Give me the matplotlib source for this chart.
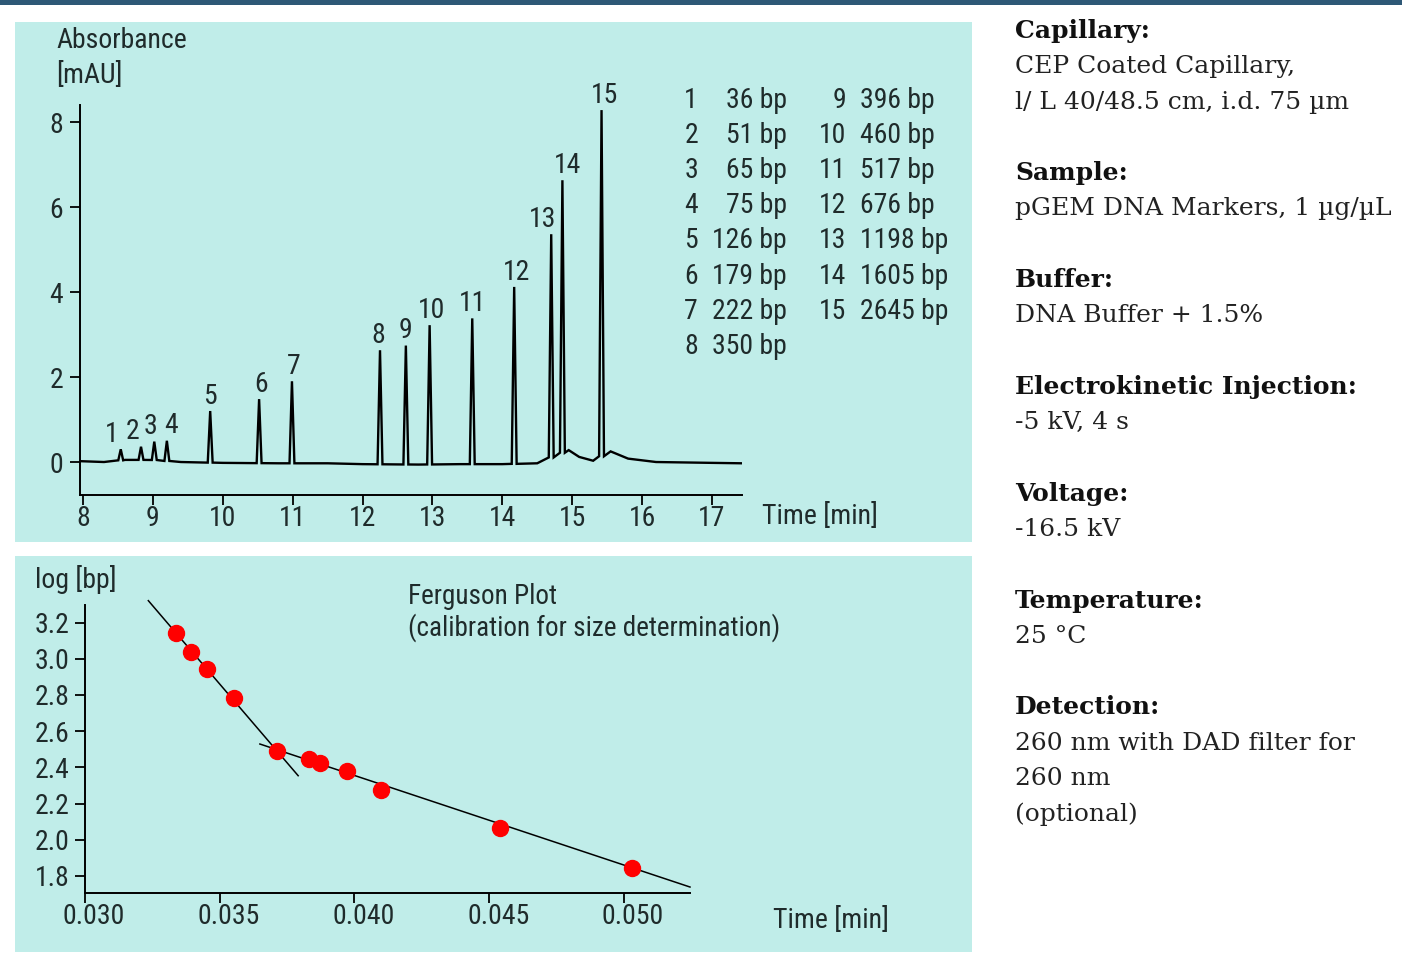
import numpy as np
import matplotlib
matplotlib.use("Agg")
import matplotlib.pyplot as plt
from matplotlib.patches import Rectangle
from matplotlib.transforms import ScaledTranslation

# electropherogram peaks (time in min, absorbance in mAU)
peak_num = [str(i) for i in range(1, 16)]
peak_time = [8.54, 8.83, 9.02, 9.20, 9.82, 10.52, 10.99, 12.25, 12.62, 12.96,
             13.57, 14.17, 14.70, 14.86, 15.42]
peak_height = [0.30, 0.36, 0.48, 0.50, 1.20, 1.48, 1.90, 2.63, 2.74, 3.22,
               3.38, 4.12, 5.36, 6.63, 8.28]
peak_bp = ["36 bp", "51 bp", "65 bp", "75 bp", "126 bp", "179 bp", "222 bp", "350 bp",
           "396 bp", "460 bp", "517 bp", "676 bp", "1198 bp", "1605 bp", "2645 bp"]

# baseline between peaks
base_time = [7.96, 8.3, 8.6, 9.0, 9.4, 10.0, 10.8, 11.5, 12.0, 12.8, 13.4, 14.0,
             14.5, 14.95, 15.1, 15.3, 15.55, 15.8, 16.2, 17.0, 17.43]
base_val = [0.02, 0.0, 0.05, 0.05, 0.0, -0.02, -0.03, -0.03, -0.05, -0.06, -0.05,
            -0.05, -0.03, 0.28, 0.12, 0.03, 0.25, 0.08, 0.0, -0.02, -0.03]

# Ferguson plot
ferg_x = [0.03338, 0.03393, 0.03452, 0.03554, 0.03714, 0.03831, 0.03872,
          0.03973, 0.04098, 0.04540, 0.05030]
ferg_logbp = [3.143, 3.038, 2.944, 2.784, 2.491, 2.446, 2.424, 2.380, 2.275,
              2.065, 1.844]
steep_x = [0.03235, 0.03791]
steep_y = [3.321, 2.354]
shallow_x = [0.03649, 0.05245]
shallow_y = [2.529, 1.739]

top_xticks = [8, 9, 10, 11, 12, 13, 14, 15, 16, 17]
top_yticks = [0, 2, 4, 6, 8]
bot_xticks = [0.030, 0.035, 0.040, 0.045, 0.050]
bot_yticks = [1.8, 2.0, 2.2, 2.4, 2.6, 2.8, 3.0, 3.2]

info = [
    ("Capillary:", ["CEP Coated Capillary,", "l/ L 40/48.5 cm, i.d. 75 µm"]),
    ("Sample:", ["pGEM DNA Markers, 1 µg/µL"]),
    ("Buffer:", ["DNA Buffer + 1.5%"]),
    ("Electrokinetic Injection:", ["-5 kV, 4 s"]),
    ("Voltage:", ["-16.5 kV"]),
    ("Temperature:", ["25 °C"]),
    ("Detection:", ["260 nm with DAD filter for", "260 nm", "(optional)"]),
]

W, H = 1402, 973
PANEL = "#c0ede9"
INK = "#1f2b2b"
FS = 20
COND = ["Liberation Sans Narrow", "Roboto Condensed", "DejaVu Sans"]
SERIF = ["DejaVu Serif", "Liberation Serif"]
plt.rcParams["font.family"] = COND


def fx(x):
    return x / W


def fy(y):
    return 1 - y / H


def main():
    fig = plt.figure(figsize=(W / 100, H / 100), dpi=100)
    fig.patch.set_facecolor("white")

    fig.add_artist(Rectangle((0, fy(5)), 1, 5 / H, transform=fig.transFigure,
                             facecolor="#2e5876", edgecolor="none", zorder=-1))
    fig.add_artist(Rectangle((fx(15), fy(542)), 957 / W, 520 / H, transform=fig.transFigure,
                             facecolor=PANEL, edgecolor="none", zorder=-1))
    fig.add_artist(Rectangle((fx(15), fy(952)), 957 / W, 396 / H, transform=fig.transFigure,
                             facecolor=PANEL, edgecolor="none", zorder=-1))

    # ---- electropherogram
    ax1 = fig.add_axes([fx(80), fy(495), 662 / W, 390 / H])
    ax1.set_facecolor("none")
    w = 0.035
    pts = [(t, v) for t, v in zip(base_time, base_val)
           if not any(abs(t - p) <= w for p in peak_time)]
    for t, h in zip(peak_time, peak_height):
        b = np.interp(t, base_time, base_val)
        pts += [(t - w, b), (t, h), (t + w, b)]
    pts.sort()
    tx, ty = zip(*pts)
    ax1.plot(tx, ty, color="black", lw=1.7, solid_joinstyle="miter")

    nudge = [-9, -8, -4, 4, 0, 2, 2, -2, 0, 2, 0, 2, -9, 5, 3]
    for lab, t, h, dx in zip(peak_num, peak_time, peak_height, nudge):
        ax1.annotate(lab, (t, h), xytext=(dx * 0.72, 1), textcoords="offset points",
                     ha="center", va="bottom", fontsize=FS, color=INK)

    ax1.set_xlim(7.957, 17.43)
    ax1.set_ylim(-0.776, 8.4)
    ax1.set_xticks(top_xticks)
    ax1.set_yticks(top_yticks)
    for s in ["top", "right"]:
        ax1.spines[s].set_visible(False)
    for s in ["left", "bottom"]:
        ax1.spines[s].set_linewidth(1.4)
    ax1.tick_params(axis="both", direction="out", length=7, width=1.3,
                    labelsize=FS, labelcolor=INK)
    ax1.tick_params(axis="x", pad=0)
    ax1.tick_params(axis="y", pad=5)

    fig.text(fx(56), fy(40), "Absorbance", fontsize=FS, color=INK, va="center")
    fig.text(fx(56), fy(75), "[mAU]", fontsize=FS, color=INK, va="center")
    fig.text(fx(762), fy(517), "Time [min]", fontsize=FS, color=INK, va="center")

    # size table
    for i, (n, bp) in enumerate(zip(peak_num, peak_bp)):
        if i < 8:
            y = 100 + i * 35.2
            fig.text(fx(698), fy(y), n, ha="right", va="center", fontsize=FS, color=INK)
            fig.text(fx(787), fy(y), bp, ha="right", va="center", fontsize=FS, color=INK)
        else:
            y = 100 + (i - 8) * 35.2
            fig.text(fx(846), fy(y), n, ha="right", va="center", fontsize=FS, color=INK)
            fig.text(fx(860), fy(y), bp, ha="left", va="center", fontsize=FS, color=INK)

    # ---- Ferguson plot
    ax2 = fig.add_axes([fx(85), fy(893), 605 / W, 288 / H])
    ax2.set_facecolor("none")
    ax2.plot(steep_x, steep_y, color="black", lw=1.1, clip_on=False)
    ax2.plot(shallow_x, shallow_y, color="black", lw=1.1, clip_on=False)
    ax2.plot(ferg_x, ferg_logbp, "o", color="#ff0000", ms=11.5, mec="#ff0000", zorder=3)
    ax2.set_xlim(0.030, 0.05245)
    ax2.set_ylim(1.706, 3.297)
    ax2.set_xticks(bot_xticks)
    ax2.set_xticklabels([f"{v:.3f}" for v in bot_xticks])
    ax2.set_yticks(bot_yticks)
    ax2.set_yticklabels([f"{v:.1f}" for v in bot_yticks])
    for s in ["top", "right"]:
        ax2.spines[s].set_visible(False)
    for s in ["left", "bottom"]:
        ax2.spines[s].set_linewidth(1.4)
    ax2.tick_params(axis="both", direction="out", length=7, width=1.3,
                    labelsize=FS, labelcolor=INK)
    ax2.tick_params(axis="x", pad=0)
    ax2.tick_params(axis="y", pad=4)
    shift = ScaledTranslation(0.09, 0, fig.dpi_scale_trans)
    for lab in ax2.get_xticklabels():
        lab.set_transform(lab.get_transform() + shift)

    fig.text(fx(35), fy(580), "log [bp]", fontsize=FS, color=INK, va="center")
    fig.text(fx(773), fy(920), "Time [min]", fontsize=FS, color=INK, va="center")
    fig.text(fx(408), fy(596), "Ferguson Plot", fontsize=19.5, color=INK, va="center")
    fig.text(fx(408), fy(628), "(calibration for size determination)", fontsize=19.5,
             color=INK, va="center")

    # ---- method conditions
    row = 0
    for head, lines in info:
        fig.text(fx(1015), fy(31 + row * 35.6), head, family=SERIF, fontweight="bold",
                 fontsize=18, color="#111111", va="center")
        row += 1
        for ln in lines:
            fig.text(fx(1015), fy(31 + row * 35.6), ln, family=SERIF,
                     fontsize=18, color="#222222", va="center")
            row += 1
        row += 1

    fig.savefig("out.png", dpi=100)
    plt.close(fig)


if __name__ == "__main__":
    main()
